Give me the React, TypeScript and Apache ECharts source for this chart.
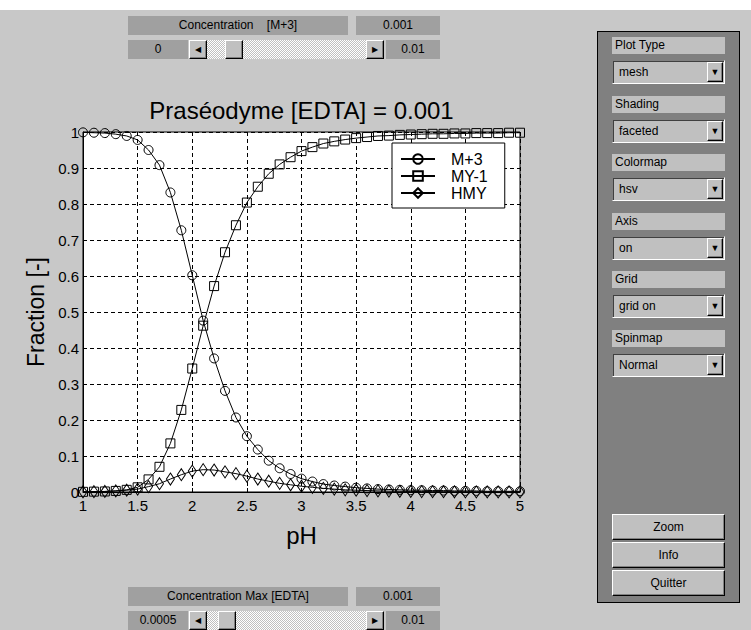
import React, { useEffect, useRef } from "react";
import * as echarts from "echarts";

const pH = [
  1.0, 1.1, 1.2, 1.3, 1.4, 1.5, 1.6, 1.7, 1.8, 1.9,
  2.0, 2.1, 2.2, 2.3, 2.4, 2.5, 2.6, 2.7, 2.8, 2.9,
  3.0, 3.1, 3.2, 3.3, 3.4, 3.5, 3.6, 3.7, 3.8, 3.9,
  4.0, 4.1, 4.2, 4.3, 4.4, 4.5, 4.6, 4.7, 4.8, 4.9, 5.0,
];

const m3 = [
  0.999, 0.998, 0.997, 0.994, 0.989, 0.978, 0.95, 0.908, 0.832, 0.727,
  0.602, 0.476, 0.371, 0.281, 0.207, 0.155, 0.118, 0.087, 0.066, 0.05,
  0.037, 0.029, 0.022, 0.018, 0.015, 0.012, 0.01, 0.008, 0.007, 0.006,
  0.005, 0.005, 0.004, 0.004, 0.003, 0.003, 0.003, 0.002, 0.002, 0.002, 0.002,
];

const my1 = [
  0.0005, 0.001, 0.0015, 0.003, 0.006, 0.013, 0.035, 0.07, 0.135, 0.228,
  0.343, 0.462, 0.572, 0.666, 0.741, 0.804, 0.848, 0.884, 0.91, 0.93,
  0.947, 0.958, 0.968, 0.974, 0.979, 0.983, 0.986, 0.989, 0.99, 0.992,
  0.993, 0.994, 0.995, 0.995, 0.996, 0.996, 0.997, 0.997, 0.997, 0.998, 0.998,
];

const hmy = [
  0.0005, 0.001, 0.0015, 0.003, 0.005, 0.008, 0.015, 0.023, 0.036, 0.048,
  0.058, 0.062, 0.061, 0.056, 0.051, 0.044, 0.036, 0.03, 0.024, 0.02,
  0.016, 0.013, 0.01, 0.008, 0.006, 0.005, 0.004, 0.003, 0.0025, 0.002,
  0.0015, 0.0012, 0.001, 0.0008, 0.0006, 0.0005, 0.0004, 0.0003, 0.0003, 0.0002, 0.0002,
];

const seriesNames = ["M+3", "MY-1", "HMY"];
const titleText = "Praséodyme [EDTA] = 0.001";
const xName = "pH";
const yName = "Fraction [-]";

const panelGroups = [
  { label: "Plot Type", value: "mesh" },
  { label: "Shading", value: "faceted" },
  { label: "Colormap", value: "hsv" },
  { label: "Axis", value: "on" },
  { label: "Grid", value: "grid on" },
  { label: "Spinmap", value: "Normal" },
];
const panelButtons = ["Zoom", "Info", "Quitter"];

const FONT = "'Liberation Sans', Arial, Helvetica, sans-serif";
const BG = "#c8c8c8";
const LABEL_BG = "#a0a0a0";
const FACE = "#c0c0c0";

const raised: React.CSSProperties = {
  boxSizing: "border-box",
  background: FACE,
  borderTop: "1px solid #ffffff",
  borderLeft: "1px solid #ffffff",
  borderRight: "1px solid #000000",
  borderBottom: "1px solid #000000",
  boxShadow: "inset -1px -1px 0 #808080",
};
const sunken: React.CSSProperties = {
  boxSizing: "border-box",
  background: FACE,
  borderTop: "1px solid #808080",
  borderLeft: "1px solid #808080",
  borderRight: "1px solid #ffffff",
  borderBottom: "1px solid #ffffff",
  boxShadow: "inset 1px 1px 0 #404040",
};

function Box(props: { l: number; t: number; w: number; h: number; text: string; bg?: string; align?: string }) {
  return (
    <div
      style={{
        position: "absolute",
        left: props.l,
        top: props.t,
        width: props.w,
        height: props.h,
        background: props.bg || LABEL_BG,
        color: "#000",
        fontSize: 12,
        lineHeight: props.h + "px",
        textAlign: (props.align as any) || "center",
        whiteSpace: "pre",
        paddingLeft: props.align === "left" ? 3 : 0,
        boxSizing: "border-box",
      }}
    >
      {props.text}
    </div>
  );
}

function Slider(props: { l: number; t: number; w: number; h: number; thumb: number }) {
  const btn = 18;
  return (
    <div style={{ position: "absolute", left: props.l, top: props.t, width: props.w, height: props.h }}>
      <div
        style={{
          position: "absolute",
          left: 0,
          top: 0,
          width: props.w,
          height: props.h,
          background: "repeating-conic-gradient(#ffffff 0 25%, #c0c0c0 0 50%) 0 0 / 2px 2px",
        }}
      />
      <div style={{ ...raised, position: "absolute", left: 0, top: 0, width: btn, height: props.h, fontSize: 8, lineHeight: props.h - 2 + "px", textAlign: "center" }}>◀</div>
      <div style={{ ...raised, position: "absolute", left: props.thumb, top: 0, width: 18, height: props.h }} />
      <div style={{ ...raised, position: "absolute", left: props.w - btn, top: 0, width: btn, height: props.h, fontSize: 8, lineHeight: props.h - 2 + "px", textAlign: "center" }}>▶</div>
    </div>
  );
}

function Chart() {
  const ref = useRef<HTMLDivElement>(null);
  useEffect(() => {
    if (!ref.current) return;
    const chart = echarts.init(ref.current, undefined, { renderer: "svg" });
    const mk = (name: string, vals: number[], symbol: string, size: any) => ({
      name,
      type: "line",
      data: pH.map((x, i) => [x, vals[i]]),
      symbol,
      symbolSize: size,
      showAllSymbol: true,
      lineStyle: { color: "#000", width: 1 },
      itemStyle: { color: "rgba(255,255,255,0)", borderColor: "#000", borderWidth: 1 },
      emphasis: { disabled: true },
    });
    chart.setOption({
      animation: false,
      backgroundColor: "transparent",
      textStyle: { fontFamily: FONT },
      title: {
        text: titleText,
        left: "center",
        top: 33,
        textStyle: { fontFamily: FONT, fontSize: 24, fontWeight: "normal", color: "#000" },
      },
      legend: {
        data: seriesNames,
        orient: "vertical",
        left: 392,
        top: 83,
        backgroundColor: "#fff",
        borderColor: "#000",
        borderWidth: 1,
        borderRadius: 0,
        padding: [8, 17, 7, 8],
        itemWidth: 34,
        itemHeight: 12,
        itemGap: 1,
        textStyle: { fontFamily: FONT, fontSize: 16, lineHeight: 15, color: "#000", padding: [0, 0, 0, 11] },
      },
      grid: {
        left: 83,
        top: 72,
        width: 437,
        height: 360,
        show: true,
        backgroundColor: "#fff",
        borderColor: "#000",
        borderWidth: 1,
      },
      xAxis: {
        type: "value",
        min: 1,
        max: 5,
        interval: 0.5,
        name: xName,
        nameLocation: "middle",
        nameGap: 31,
        nameTextStyle: { fontFamily: FONT, fontSize: 24, color: "#000" },
        axisLine: { show: true, lineStyle: { color: "#000", width: 1 } },
        axisTick: { show: true, inside: true, length: 4, lineStyle: { color: "#000" } },
        axisLabel: { fontFamily: FONT, fontSize: 15, color: "#000", margin: 6 },
        splitLine: { show: true, lineStyle: { color: "#000", width: 1, type: [4, 3] } },
      },
      yAxis: {
        type: "value",
        min: 0,
        max: 1,
        interval: 0.1,
        name: yName,
        nameLocation: "middle",
        nameGap: 34,
        nameTextStyle: { fontFamily: FONT, fontSize: 23, color: "#000" },
        axisLine: { show: true, lineStyle: { color: "#000", width: 1 } },
        axisTick: { show: true, inside: true, length: 4, lineStyle: { color: "#000" } },
        axisLabel: {
          fontFamily: FONT,
          fontSize: 15,
          color: "#000",
          margin: 4,
          formatter: (v: number) => (v === 0 ? "0" : v === 1 ? "1" : v.toFixed(1)),
        },
        splitLine: { show: true, lineStyle: { color: "#000", width: 1, type: [4, 3] } },
      },
      series: [
        mk(seriesNames[0], m3, "circle", 9),
        mk(seriesNames[1], my1, "rect", 9),
        mk(seriesNames[2], hmy, "diamond", [8, 12]),
      ],
    });
    return () => chart.dispose();
  }, []);
  return <div ref={ref} style={{ position: "absolute", left: 0, top: 60, width: 603, height: 520 }} />;
}

export default function App() {
  return (
    <div
      style={{
        position: "fixed",
        left: 0,
        top: 0,
        width: 751,
        height: 630,
        background: BG,
        overflow: "hidden",
        fontFamily: FONT,
      }}
    >
      <div style={{ position: "absolute", left: 0, top: 0, width: 751, height: 10, background: "#fff" }} />

      {/* top controls */}
      <Box l={128} t={16} w={220} h={19} text={"Concentration    [M+3]"} />
      <Box l={356} t={16} w={84} h={19} text="0.001" />
      <Box l={128} t={40} w={60} h={19} text="0" />
      <Slider l={189} t={40} w={195} h={19} thumb={36} />
      <Box l={386} t={40} w={54} h={19} text="0.01" />

      <Chart />

      {/* bottom controls */}
      <Box l={128} t={587} w={220} h={19} text="Concentration Max [EDTA]" />
      <Box l={356} t={587} w={84} h={19} text="0.001" />
      <Box l={128} t={611} w={60} h={19} text="0.0005" />
      <Slider l={189} t={611} w={195} h={19} thumb={29} />
      <Box l={386} t={611} w={54} h={19} text="0.01" />

      {/* right panel */}
      <div
        style={{
          position: "absolute",
          left: 597,
          top: 31,
          width: 143,
          height: 572,
          background: "#808080",
          border: "1px solid #000",
          boxSizing: "border-box",
        }}
      />
      {panelGroups.map((g, i) => {
        const t = 37 + 58.6 * i;
        return (
          <React.Fragment key={g.label}>
            <Box l={612} t={t} w={113} h={17} text={g.label} bg={FACE} align="left" />
            <div style={{ ...sunken, position: "absolute", left: 612, top: t + 23, width: 113, height: 24, fontSize: 12, lineHeight: "22px", paddingLeft: 6, color: "#000" }}>
              {g.value}
            </div>
            <div style={{ ...raised, position: "absolute", left: 707, top: t + 25, width: 16, height: 20, fontSize: 9, lineHeight: "18px", textAlign: "center", color: "#000" }}>▼</div>
          </React.Fragment>
        );
      })}
      {panelButtons.map((b, i) => (
        <div
          key={b}
          style={{ ...raised, position: "absolute", left: 612, top: 514 + 28 * i, width: 113, height: 26, fontSize: 12, lineHeight: "24px", textAlign: "center", color: "#000" }}
        >
          {b}
        </div>
      ))}
    </div>
  );
}
